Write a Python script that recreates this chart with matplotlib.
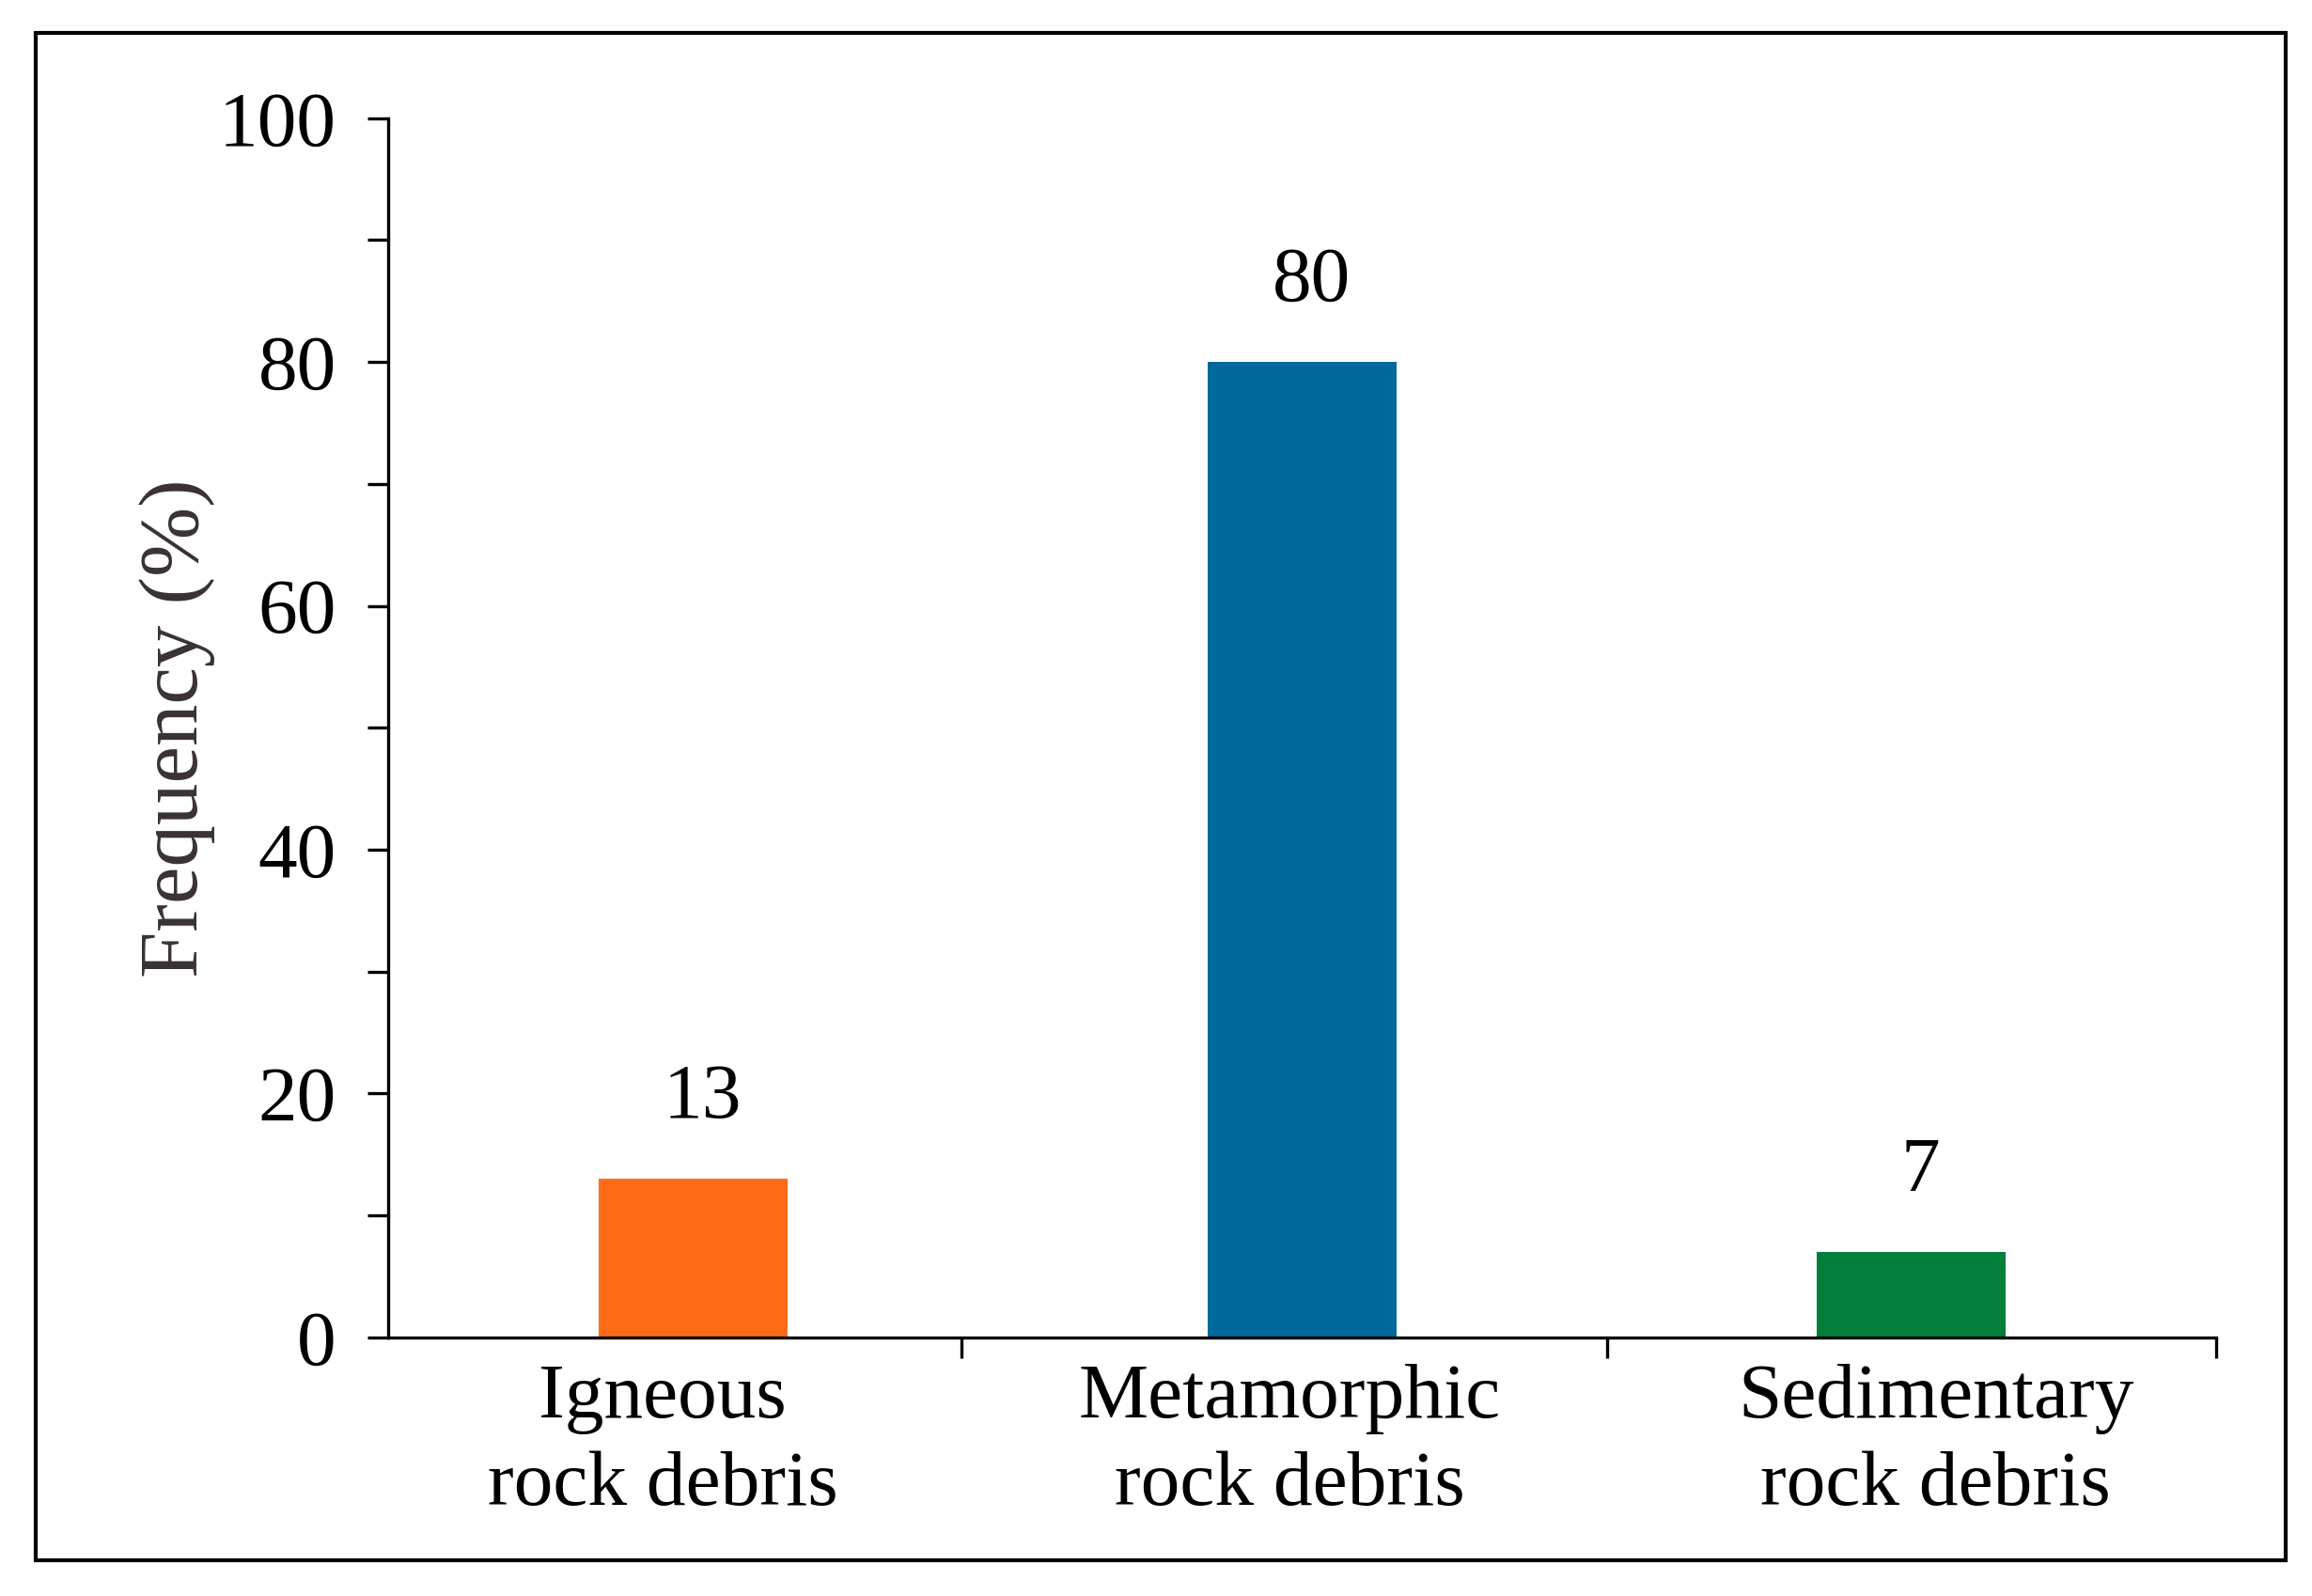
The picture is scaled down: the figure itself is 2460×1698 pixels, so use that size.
import matplotlib
matplotlib.use("Agg")
import matplotlib.pyplot as plt
from matplotlib.patches import Rectangle

categories = ["Igneous\nrock debris", "Metamorphic\nrock debris", "Sedimentary\nrock debris"]
frequency = [13, 80, 7]
bar_colors = ["#ff6c17", "#00699c", "#027f38"]
y_major = [0, 20, 40, 60, 80, 100]
y_minor = [10, 30, 50, 70, 90]
group_edges = [0.44, 1.5, 2.5]

plt.rcParams["font.family"] = ["Liberation Serif", "DejaVu Serif"]

fig = plt.figure(figsize=(24.6, 16.98), dpi=100)
ax = fig.add_axes([0.168, 0.162, 0.7905, 0.764])

x = list(range(len(categories)))
bars = ax.bar(x, frequency, width=0.31, color=bar_colors)

for xi, v in zip(x, frequency):
    ax.annotate(str(v), (xi, v), xytext=(7, 34), textcoords="offset points",
                ha="center", va="bottom", fontsize=60)

ax.set_xlim(-0.5, 2.5)
ax.set_ylim(0, 100)

# y axis: labelled every 20, unlabelled ticks between
ax.set_yticks(y_major)
ax.set_yticks(y_minor, minor=True)
ax.tick_params(axis="y", which="both", direction="out", length=16, width=2.4,
               labelsize=60, pad=24)

# x axis: ticks at group edges, labels under the bars
ax.set_xticks(group_edges)
ax.set_xticklabels([])
ax.set_xticks([-0.05, 0.98, 2.04], minor=True)
ax.set_xticklabels(categories, minor=True, fontsize=60, linespacing=1.3)
ax.tick_params(axis="x", which="major", direction="out", length=16, width=2.4)
ax.tick_params(axis="x", which="minor", length=0, pad=20)

for s in ["top", "right"]:
    ax.spines[s].set_visible(False)
for s in ["left", "bottom"]:
    ax.spines[s].set_linewidth(2.4)

ax.set_ylabel("Frequency (%)", fontsize=64, color="#3a3232")
ax.yaxis.set_label_coords(-0.095, 0.5)

# outer frame around the whole figure
fig.patches.append(Rectangle((0.0154, 0.0224), 0.9732, 0.957, transform=fig.transFigure,
                             fill=False, edgecolor="black", linewidth=3))

fig.savefig("out.png", dpi=100)
